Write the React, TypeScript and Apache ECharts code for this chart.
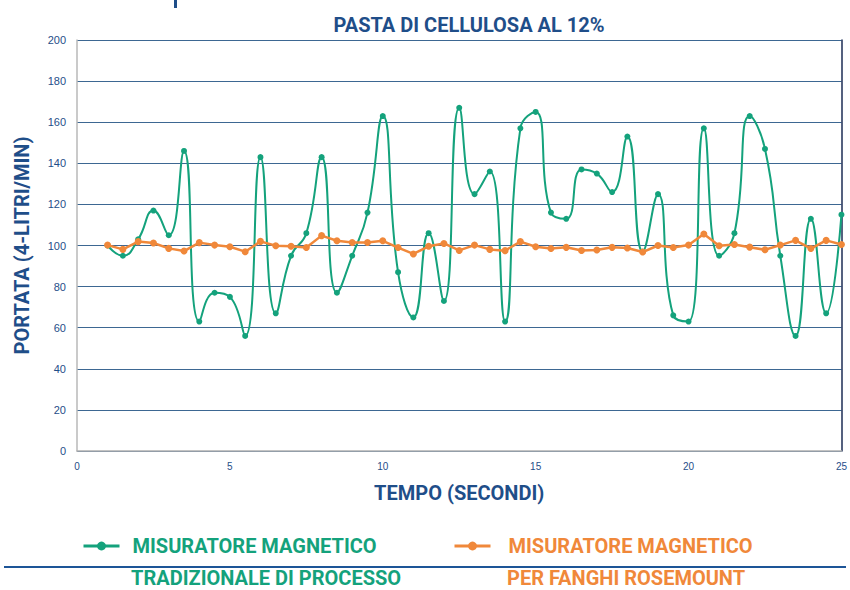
import React, { useEffect, useRef } from "react";
import * as echarts from "echarts";

const TITLE = "PASTA DI CELLULOSA AL 12%";
const X_NAME = "TEMPO (SECONDI)";
const Y_NAME = "PORTATA (4-LITRI/MIN)";
const SERIES_A = "MISURATORE MAGNETICO TRADIZIONALE DI PROCESSO";
const SERIES_B = "MISURATORE MAGNETICO PER FANGHI ROSEMOUNT";
const LEGEND_LINE1 = "MISURATORE MAGNETICO";
const LEGEND_A_LINE2 = "TRADIZIONALE DI PROCESSO";
const LEGEND_B_LINE2 = "PER FANGHI ROSEMOUNT";

const time = [
  1, 1.5, 2, 2.5, 3, 3.5, 4, 4.5, 5, 5.5,
  6, 6.5, 7, 7.5, 8, 8.5, 9, 9.5, 10, 10.5,
  11, 11.5, 12, 12.5, 13, 13.5, 14, 14.5, 15, 15.5,
  16, 16.5, 17, 17.5, 18, 18.5, 19, 19.5, 20, 20.5,
  21, 21.5, 22, 22.5, 23, 23.5, 24, 24.5, 25,
];

const traditional = [
  100, 95, 103, 117, 105, 146, 63, 77, 75, 56,
  143, 67, 95, 106, 143, 77, 95, 116, 163, 87,
  65, 106, 73, 167, 125, 136, 63, 157, 165, 116,
  113, 137, 135, 126, 153, 97, 125, 66, 63, 157,
  95, 106, 163, 147, 95, 56, 113, 67, 115,
];

const rosemount = [
  100.2, 98.1, 101.9, 101.2, 98.6, 97.3, 101.4, 100.2, 99.4, 97,
  102, 99.9, 99.6, 99, 104.8, 102.3, 101.5, 101.5, 102.3, 99,
  95.9, 99.6, 101, 97.6, 100.2, 98.1, 97.5, 101.9, 99.4, 98.5,
  99.1, 97.6, 97.8, 99.1, 98.8, 96.8, 100, 99, 100.2, 105.6,
  99.9, 100.5, 99.2, 97.9, 100.2, 102.5, 98.5, 102.5, 100.5,
];

const GREEN = "#14a27c";
const ORANGE = "#f0883a";
const NAVY = "#1f4e89";
const FONT = "Roboto, 'Liberation Sans', sans-serif";
const TICK_FONT = "'Liberation Sans', 'DejaVu Sans', sans-serif";

export default function App() {
  const ref = useRef<HTMLDivElement>(null);

  useEffect(() => {
    document.body.style.margin = "0";
    if (!ref.current) return;
    const chart = echarts.init(ref.current, undefined, { renderer: "svg" });
    const pairsA = time.map((t, i) => [t, traditional[i]]);
    const pairsB = time.map((t, i) => [t, rosemount[i]]);

    chart.setOption({
      animation: false,
      backgroundColor: "#ffffff",
      title: {
        text: TITLE,
        left: 464,
        top: 10,
        textAlign: "center",
        textStyle: { fontFamily: FONT, fontSize: 20, fontWeight: "bold", color: NAVY },
      },
      grid: { left: 77, right: 4, top: 40, bottom: 139, containLabel: false },
      xAxis: {
        type: "value",
        min: 0,
        max: 25,
        interval: 5,
        name: X_NAME,
        nameLocation: "middle",
        nameGap: 32,
        nameTextStyle: { fontFamily: FONT, fontSize: 20, fontWeight: "bold", color: NAVY },
        axisLine: { show: true, lineStyle: { color: "#b0b0b0", width: 1.5 } },
        axisTick: { show: false },
        axisLabel: { margin: 10, fontFamily: TICK_FONT, fontSize: 10, color: NAVY },
        splitLine: { show: false },
      },
      yAxis: [
        {
          type: "value",
          min: 0,
          max: 200,
          interval: 20,
          name: Y_NAME,
          nameLocation: "middle",
          nameGap: 45,
          nameTextStyle: { fontFamily: FONT, fontSize: 20, fontWeight: "bold", color: NAVY },
          axisLine: { show: true, lineStyle: { color: "#b8b8b8", width: 1.5 } },
          axisTick: { show: false },
          axisLabel: { margin: 11, fontFamily: TICK_FONT, fontSize: 11, color: NAVY },
          splitLine: { show: true, lineStyle: { color: "#3d6792", width: 1.2 } },
        },
        {
          type: "value",
          position: "right",
          min: 0,
          max: 200,
          interval: 20,
          axisLine: { show: true, lineStyle: { color: "#1c2d55", width: 1.5 } },
          axisTick: { show: false },
          axisLabel: { show: false },
          splitLine: { show: false },
        },
      ],
      legend: [
        {
          data: [SERIES_A],
          left: 77,
          top: 531,
          itemWidth: 36,
          itemHeight: 11,
          selectedMode: false,
          formatter: () => LEGEND_LINE1,
          lineStyle: { width: 3 },
          textStyle: { fontFamily: FONT, fontSize: 20, fontWeight: "bold", color: GREEN, padding: [0, 0, 0, 8] },
        },
        {
          data: [SERIES_B],
          left: 448,
          top: 531,
          itemWidth: 36,
          itemHeight: 11,
          selectedMode: false,
          formatter: () => LEGEND_LINE1,
          lineStyle: { width: 3 },
          textStyle: { fontFamily: FONT, fontSize: 20, fontWeight: "bold", color: ORANGE, padding: [0, 0, 0, 13] },
        },
      ],
      graphic: [
        {
          type: "rect",
          shape: { x: 174, y: 0, width: 3, height: 8 },
          style: { fill: NAVY },
        },
        {
          type: "line",
          shape: { x1: 4, y1: 567, x2: 846, y2: 567 },
          style: { stroke: "#1d5597", lineWidth: 2 },
        },
        {
          type: "text",
          left: 131,
          top: 568,
          style: { text: LEGEND_A_LINE2, fontFamily: FONT, fontSize: 20, fontWeight: "bold", fill: GREEN },
        },
        {
          type: "text",
          left: 507,
          top: 568,
          style: { text: LEGEND_B_LINE2, fontFamily: FONT, fontSize: 20, fontWeight: "bold", fill: ORANGE },
        },
      ],
      series: [
        {
          name: SERIES_A,
          type: "line",
          data: pairsA,
          smooth: 0.5,
          symbol: "circle",
          symbolSize: 6,
          clip: false,
          lineStyle: { color: GREEN, width: 2 },
          itemStyle: { color: GREEN },
          z: 2,
        },
        {
          name: SERIES_B,
          type: "line",
          data: pairsB,
          smooth: false,
          symbol: "circle",
          symbolSize: 7,
          clip: false,
          lineStyle: { color: ORANGE, width: 2.5 },
          itemStyle: { color: ORANGE },
          z: 3,
        },
      ],
    });

    return () => chart.dispose();
  }, []);

  return <div ref={ref} style={{ width: 850, height: 590 }} />;
}
